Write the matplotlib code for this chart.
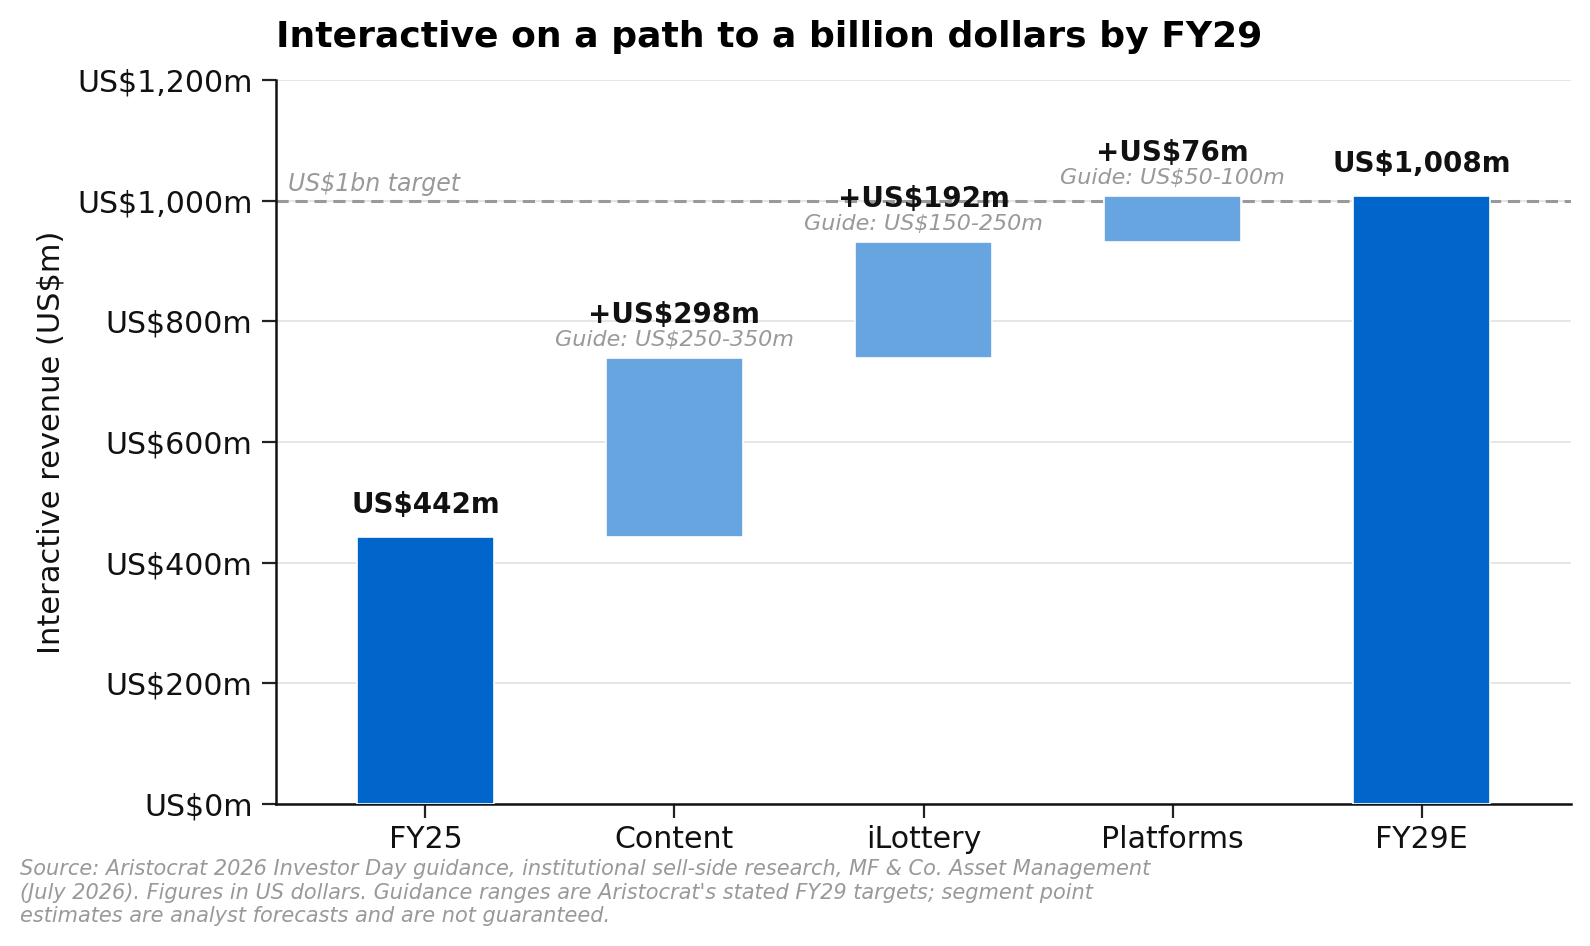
import matplotlib
matplotlib.use("Agg")
import matplotlib.pyplot as plt

categories = ["FY25", "Content", "iLottery", "Platforms", "FY29E"]
values = [442, 298, 192, 76, 1008]
kinds = ["total", "delta", "delta", "delta", "total"]
guides = [None, "Guide: US$250-350m", "Guide: US$150-250m", "Guide: US$50-100m", None]
yticks = [0, 200, 400, 600, 800, 1000, 1200]
target = 1000

dark = "#0066cc"
light = "#66a5e0"

fig = plt.figure(figsize=(7.95, 4.73), dpi=200)
ax = fig.add_axes([276/1590, 1 - 804/946, (1571-276)/1590, (804-80)/946])

running = 0
for i, (cat, v, k) in enumerate(zip(categories, values, kinds)):
    if k == "total":
        bottom, height = 0, v
        running = v
        color = dark
        label = f"US${v:,}m"
    else:
        bottom, height = running, v
        running += v
        color = light
        label = f"+US${v:,}m"
    ax.bar(i, height, bottom=bottom, width=0.55, color=color, edgecolor="white",
           linewidth=0.6, zorder=3)
    top = bottom + height
    if k == "total":
        ax.text(i, top + 30, label, ha="center", va="bottom", fontsize=10,
                fontweight="bold", color="#111111", zorder=5)
    else:
        ax.text(i, top + 47, label, ha="center", va="bottom", fontsize=10,
                fontweight="bold", color="#111111", zorder=5)
        ax.text(i, top + 13, guides[i], ha="center", va="bottom", fontsize=8,
                style="italic", color="#999999", zorder=5)

ax.axhline(target, color="#999999", linestyle=(0, (4, 2.2)), linewidth=1.1, zorder=2)
ax.text(-0.55, target + 8, "US$1bn target", ha="left", va="bottom", fontsize=8.5,
        style="italic", color="#999999")

ax.set_xlim(-0.6, 4.6)
ax.set_ylim(0, 1200)
ax.set_xticks(range(len(categories)))
ax.set_xticklabels(categories, fontsize=10.8)
ax.set_yticks(yticks)
ax.set_yticklabels([f"US${t:,}m" for t in yticks], fontsize=10.8)
ax.tick_params(axis="both", length=5, width=0.8, color="#222222", labelcolor="#111111")
ax.tick_params(axis="x", pad=2.5)
ax.grid(axis="y", color="#e6e6e6", linewidth=0.7, zorder=0)
ax.set_axisbelow(True)
for s in ["top", "right"]:
    ax.spines[s].set_visible(False)
for s in ["left", "bottom"]:
    ax.spines[s].set_linewidth(0.9)
    ax.spines[s].set_color("#111111")

ax.set_ylabel("Interactive revenue (US$m)", fontsize=11, color="#111111", labelpad=4)
ax.set_title("Interactive on a path to a billion dollars by FY29", loc="left",
             fontsize=13, fontweight="bold", pad=12)

fig.text(20/1590, 1 - 859/946,
         "Source: Aristocrat 2026 Investor Day guidance, institutional sell-side research, MF & Co. Asset Management\n"
         "(July 2026). Figures in US dollars. Guidance ranges are Aristocrat's stated FY29 targets; segment point\n"
         "estimates are analyst forecasts and are not guaranteed.",
         ha="left", va="top", fontsize=7.5, style="italic", color="#999999", linespacing=1.22)

fig.savefig("out.png", dpi=200)
